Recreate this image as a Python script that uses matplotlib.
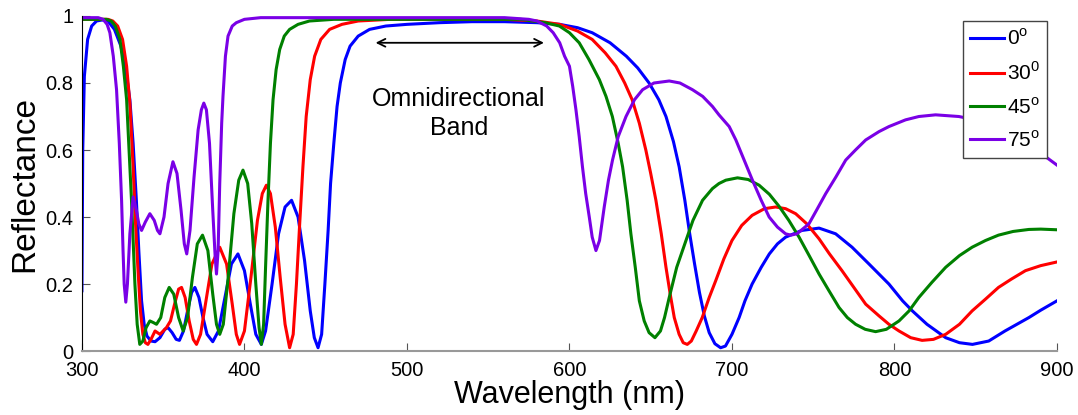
import matplotlib
matplotlib.use('Agg')
import matplotlib.pyplot as plt

plt.rcParams['font.family'] = ['Liberation Sans', 'DejaVu Sans']

# 0 deg
wl_0 = [300, 300.5, 301.5, 303.5, 306, 309, 312.5, 316, 320, 324, 327, 329.5, 331.5, 333.5, 335,
        336.7, 338.3, 340, 342.5, 345, 348, 351, 353, 355.5, 358, 360, 362.5, 365, 367.5, 369.5,
        372, 374.5, 377, 380.5, 384, 388, 392, 396, 400, 404, 407, 410.4, 413, 417, 421, 425, 429,
        433, 437, 440.5, 443, 445.3, 447.5, 449.5, 451.5, 453, 455, 457, 459, 462, 465, 470, 477,
        487, 500, 520, 540, 560, 580, 594, 605, 614, 625, 635, 642, 649, 655, 659.4, 664, 667.5,
        671, 674, 677, 680, 683, 686, 689.5, 693, 696, 700, 704.4, 708, 712.4, 718, 723, 728, 733,
        743, 753.6, 763.8, 773.9, 784.3, 796.6, 805, 811, 820, 831.5, 840, 848, 858, 868, 882.7,
        890, 900]
r_0 = [0.18, 0.6, 0.82, 0.93, 0.97, 0.985, 0.988, 0.985, 0.96, 0.91, 0.84, 0.75, 0.62, 0.45, 0.3,
       0.15, 0.08, 0.045, 0.03, 0.028, 0.04, 0.065, 0.07, 0.055, 0.035, 0.032, 0.06, 0.12, 0.175,
       0.19, 0.16, 0.1, 0.05, 0.028, 0.06, 0.16, 0.26, 0.29, 0.24, 0.13, 0.05, 0.02, 0.06, 0.2,
       0.35, 0.43, 0.45, 0.40, 0.27, 0.12, 0.04, 0.01, 0.05, 0.2, 0.36, 0.5, 0.62, 0.73, 0.8, 0.87,
       0.91, 0.94, 0.96, 0.97, 0.975, 0.98, 0.983, 0.983, 0.98, 0.975, 0.965, 0.95, 0.92, 0.88,
       0.845, 0.80, 0.75, 0.70, 0.625, 0.55, 0.45, 0.35, 0.26, 0.175, 0.105, 0.055, 0.022, 0.01,
       0.015, 0.05, 0.10, 0.15, 0.20, 0.25, 0.29, 0.32, 0.34, 0.36, 0.367, 0.35, 0.31, 0.26, 0.20,
       0.15, 0.12, 0.08, 0.04, 0.025, 0.02, 0.03, 0.06, 0.10, 0.122, 0.15]

# 30 deg
wl_30 = [300, 310, 316, 319, 322, 325, 327.5, 329.5, 331.5, 333, 334.4, 336, 337.5, 339, 340.6,
         342.5, 345, 348, 350, 352, 354.5, 357, 359.5, 361.3, 363.5, 366, 368.5, 370.5, 373, 376,
         380, 384.8, 389, 392.5, 395, 397, 400, 404, 408, 411, 413.5, 416, 419, 422, 425, 427.8,
         430, 432, 434, 436, 438, 440.5, 443.2, 447, 452.4, 460, 470, 490, 560, 580, 594, 605, 614,
         622, 628.6, 634, 638.6, 643, 647, 650, 653.2, 656.5, 659.4, 662, 664.5, 667.5, 670, 672.5,
         675, 678, 681.7, 686, 690, 695, 700, 706, 712.4, 720, 726.9, 733, 739.2, 746, 753.6, 760,
         767.7, 775, 782.3, 790.5, 796.6, 802.8, 810, 817, 824, 831.5, 840, 847.8, 856, 864, 872,
         880.6, 890, 900]
r_30 = [0.99, 0.99, 0.99, 0.985, 0.97, 0.93, 0.85, 0.74, 0.55, 0.38, 0.25, 0.12, 0.05, 0.025, 0.02,
        0.035, 0.06, 0.05, 0.06, 0.07, 0.09, 0.14, 0.185, 0.19, 0.16, 0.09, 0.035, 0.02, 0.05, 0.14,
        0.26, 0.31, 0.26, 0.14, 0.05, 0.02, 0.06, 0.22, 0.39, 0.47, 0.495, 0.47, 0.37, 0.22, 0.08,
        0.01, 0.05, 0.2, 0.38, 0.55, 0.7, 0.81, 0.88, 0.93, 0.96, 0.975, 0.985, 0.99, 0.99, 0.985,
        0.975, 0.955, 0.93, 0.89, 0.85, 0.80, 0.75, 0.68, 0.60, 0.53, 0.45, 0.35, 0.25, 0.17, 0.10,
        0.05, 0.025, 0.02, 0.03, 0.06, 0.10, 0.16, 0.21, 0.275, 0.33, 0.375, 0.405, 0.425, 0.43,
        0.425, 0.41, 0.38, 0.335, 0.29, 0.24, 0.19, 0.14, 0.105, 0.08, 0.06, 0.04, 0.032, 0.035,
        0.05, 0.08, 0.12, 0.155, 0.19, 0.215, 0.24, 0.255, 0.266]

# 45 deg
wl_45 = [300, 315, 318, 320.5, 323.4, 325.5, 327.5, 329, 330.5, 331.6, 332.6, 334, 335.6, 337.5,
         339.5, 341.8, 344, 345.9, 348.5, 351, 353.7, 356.5, 359.5, 362.3, 365, 368, 371, 374.2,
         377.5, 380.5, 382.8, 384.8, 387, 390, 393.5, 396.5, 399.1, 402, 404.5, 407, 409, 410.4,
         411.8, 413, 414.5, 416, 417.6, 419.5, 421.7, 424.5, 427.8, 433, 440, 455, 570, 585, 593.8,
         600, 606, 612, 618.4, 622.5, 626.4, 630, 632.7, 635.5, 637.8, 640.5, 643, 646, 649, 652.6,
         656, 658.5, 661.4, 666, 671.7, 676, 681.9, 688, 692, 696.2, 703.4, 710, 716.7, 723, 729,
         735, 741.3, 747.5, 753.6, 759.7, 765.9, 771, 776.1, 782, 788.4, 795, 802.8, 809, 815, 823,
         831.5, 840, 847.8, 856, 864, 873, 882.7, 890, 900]
r_45 = [0.99, 0.99, 0.985, 0.97, 0.93, 0.85, 0.75, 0.6, 0.45, 0.32, 0.2, 0.08, 0.02, 0.03, 0.07,
        0.09, 0.085, 0.08, 0.1, 0.16, 0.19, 0.17, 0.1, 0.06, 0.1, 0.22, 0.32, 0.346, 0.3, 0.17, 0.08,
        0.05, 0.08, 0.22, 0.41, 0.51, 0.54, 0.5, 0.38, 0.2, 0.07, 0.02, 0.08, 0.25, 0.45, 0.62, 0.75,
        0.84, 0.9, 0.94, 0.96, 0.975, 0.985, 0.99, 0.99, 0.98, 0.97, 0.95, 0.92, 0.87, 0.81, 0.76,
        0.70, 0.62, 0.55, 0.45, 0.35, 0.25, 0.15, 0.09, 0.055, 0.04, 0.06, 0.1, 0.16, 0.25, 0.33,
        0.39, 0.45, 0.485, 0.5, 0.51, 0.517, 0.512, 0.495, 0.468, 0.432, 0.39, 0.34, 0.285, 0.23,
        0.18, 0.13, 0.1, 0.08, 0.065, 0.058, 0.065, 0.09, 0.12, 0.16, 0.205, 0.25, 0.285, 0.31,
        0.33, 0.346, 0.357, 0.363, 0.364, 0.362]

# 75 deg
wl_75 = [300, 310, 313, 315.5, 317.2, 319.3, 321.3, 323, 324.4, 325.3, 326, 327, 328, 329.5, 331.5,
         333.5, 335, 336.7, 339, 341.8, 344.5, 346.5, 348, 350.5, 353, 356, 358.5, 361, 363, 364.5,
         366.5, 369, 371.5, 373.5, 375, 376.6, 378.5, 380.5, 382, 382.8, 383.8, 384.8, 386, 386.8,
         388.3, 389.9, 392.5, 395, 400, 410, 560, 575, 580, 586, 590, 594, 597, 600, 602, 604, 606,
         608, 610, 612.2, 614, 616.3, 618.5, 621.4, 624, 626.5, 630, 634.8, 640, 645, 652, 661.4,
         668, 675.7, 682, 688, 692, 698.3, 702.4, 707.5, 712.6, 718, 722.9, 728, 733, 736.2, 740,
         747.4, 752, 757.7, 764, 770, 776, 782.3, 790.5, 796.6, 806.8, 815, 825.3, 839.6, 850, 860,
         870, 880, 893, 900]
r_75 = [0.995, 0.995, 0.99, 0.975, 0.95, 0.88, 0.78, 0.62, 0.45, 0.3, 0.2, 0.146, 0.2, 0.35, 0.46,
        0.42, 0.38, 0.36, 0.385, 0.41, 0.39, 0.36, 0.35, 0.4, 0.5, 0.565, 0.53, 0.42, 0.32, 0.29,
        0.36, 0.52, 0.66, 0.72, 0.74, 0.72, 0.62, 0.42, 0.28, 0.23, 0.3, 0.5, 0.68, 0.76, 0.88, 0.94,
        0.97, 0.98, 0.99, 0.995, 0.995, 0.99, 0.985, 0.97, 0.95, 0.92, 0.88, 0.85, 0.79, 0.72, 0.64,
        0.55, 0.47, 0.4, 0.34, 0.30, 0.33, 0.43, 0.51, 0.57, 0.64, 0.70, 0.75, 0.78, 0.80, 0.806,
        0.80, 0.78, 0.76, 0.73, 0.705, 0.67, 0.63, 0.57, 0.51, 0.45, 0.40, 0.37, 0.35, 0.346, 0.35,
        0.38, 0.42, 0.47, 0.52, 0.57, 0.60, 0.63, 0.655, 0.67, 0.69, 0.70, 0.705, 0.70, 0.69, 0.67,
        0.645, 0.62, 0.58, 0.555]

labels = ['0$^\\mathregular{o}$', '30$^\\mathregular{0}$', '45$^\\mathregular{o}$', '75$^\\mathregular{o}$']
colors = ['#0000ff', '#ff0000', '#008000', '#7a00e6']
x_ticks = [300, 400, 500, 600, 700, 800, 900]
y_ticks = [0, 0.2, 0.4, 0.6, 0.8, 1]
y_ticklabels = ['0', '0.2', '0.4', '0.6', '0.8', '1']

fig = plt.figure(figsize=(10.78, 4.15), dpi=100)
ax = fig.add_axes([0.076, 0.154, 0.9045, 0.8075])

for wl, r, lab, c in zip([wl_0, wl_30, wl_45, wl_75], [r_0, r_30, r_45, r_75], labels, colors):
    ax.plot(wl, r, color=c, lw=2.2, label=lab)

ax.set_xlim(300, 900)
ax.set_ylim(0, 1)
ax.set_xticks(x_ticks)
ax.set_yticks(y_ticks)
ax.set_yticklabels(y_ticklabels)
ax.tick_params(direction='in', length=6, labelsize=14.5, colors='#555555', labelcolor='black')
ax.tick_params(axis='x', pad=7)
ax.tick_params(axis='y', pad=6)
ax.spines['top'].set_visible(False)
ax.spines['right'].set_visible(False)
ax.spines['left'].set_color('black')
ax.spines['bottom'].set_color('#999999')
ax.spines['bottom'].set_linewidth(1.5)

ax.set_xlabel('Wavelength (nm)', fontsize=22, labelpad=0)
ax.set_ylabel('Reflectance', fontsize=24, labelpad=4)

# band arrow + text
ax.annotate('', xy=(479, 0.92), xytext=(586, 0.92),
            arrowprops=dict(arrowstyle='<->', lw=1.3, color='black', mutation_scale=14))
ax.text(532, 0.71, 'Omnidirectional\nBand', ha='center', va='center', fontsize=18, linespacing=1.25)

leg = ax.legend(loc='upper right', bbox_to_anchor=(0.99, 0.985), borderaxespad=0,
                fontsize=15, handlelength=1.6, handletextpad=0.15, labelspacing=0.6,
                fancybox=False, framealpha=1, edgecolor='#444444', borderpad=0.35)
leg.get_frame().set_linewidth(1.0)

fig.savefig('out.png', dpi=100)
